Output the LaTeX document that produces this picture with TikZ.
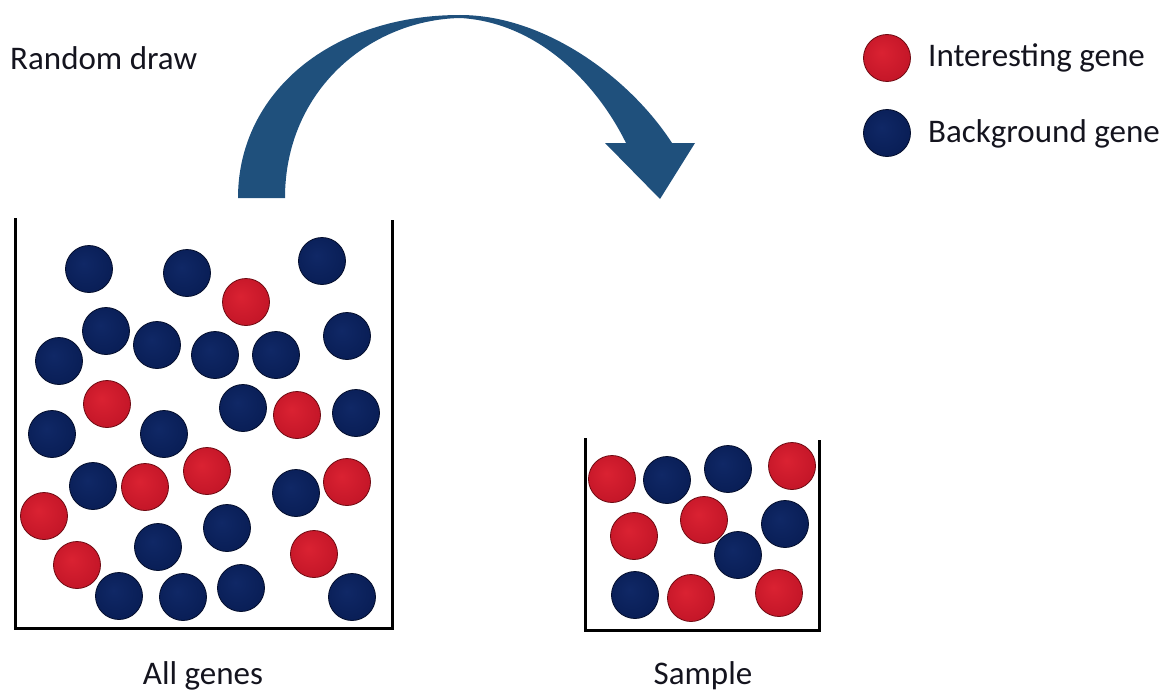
\documentclass[tikz,border=0pt]{standalone}
\usepackage{fontspec}
\setmainfont{Carlito}
\definecolor{arrowblue}{RGB}{31,80,124}
\definecolor{redA}{RGB}{218,34,50}
\definecolor{redB}{RGB}{196,22,40}
\definecolor{redC}{RGB}{110,10,18}
\definecolor{blueA}{RGB}{16,40,102}
\definecolor{blueB}{RGB}{9,30,86}
\definecolor{blueC}{RGB}{4,14,44}
\definecolor{txt}{RGB}{20,20,30}
\pgfdeclareradialshading{redball}{\pgfpoint{-6bp}{6bp}}{color(0bp)=(redA); color(28bp)=(redB); color(44bp)=(redB!80!black); color(50bp)=(redC)}
\pgfdeclareradialshading{blueball}{\pgfpoint{-6bp}{6bp}}{color(0bp)=(blueA); color(28bp)=(blueB); color(44bp)=(blueB!80!black); color(50bp)=(blueC)}
\tikzset{
  ball/.style={circle, minimum size=47pt, inner sep=0pt, line width=0.8pt},
  rball/.style={ball, shading=redball, draw=redC},
  bball/.style={ball, shading=blueball, draw=blueC},
  lbl/.style={font=\fontsize{33pt}{40pt}\selectfont, text=txt, inner sep=0pt},
  wall/.style={line width=3pt, draw=black}
}
\begin{document}
\begin{tikzpicture}[x=1pt,y=-1pt]
\useasboundingbox (0,0) rectangle (1173,693);
% arrow
\fill[arrowblue] (238,198) .. controls (238,92) and (332,15) .. (460,15)
  .. controls (545,15) and (630,78) .. (672,143)
  -- (695,143) -- (660,199) -- (605,143) -- (626,143)
  .. controls (595,80) and (535,22) .. (460,18)
  .. controls (370,20) and (285,90) .. (285,198) -- cycle;
% texts
\node[lbl, anchor=west] (rd) at (10,58) {Random draw};
\node[lbl, anchor=west] (il) at (928,58) {Interesting gene};
\node[lbl, anchor=west] (bl) at (928,134) {Background gene};
\node[lbl] (ag) at (203,676) {All genes};
\node[lbl] (sa) at (703,676) {Sample};
% legend
\node[rball] (lr) at (887,58) {};
\node[bball] (lb) at (887,133) {};
% containers
\draw[wall] (15,218) -- (15,628) -- (392,628) -- (392,220);
\draw[wall] (585,438) -- (585,630) -- (819,630) -- (819,440);
% all genes
\foreach \x/\y [count=\i] in {89/269,187/273,322/261,106/331,157/345,59/361,215/355,276/355,347/336,243/408,356/413,52/434,164/434,93/486,296/493,227/528,158/547,119/596,183/597,241/588,352/597}
  \node[bball] (ab\i) at (\x,\y) {};
\foreach \x/\y [count=\i] in {246/302,107/404,297/415,207/471,145/487,347/482,44/516,314/554,77/565}
  \node[rball] (ar\i) at (\x,\y) {};
% sample
\foreach \x/\y [count=\i] in {667/480,728/469,785/524,738/555,635/595}
  \node[bball] (sb\i) at (\x,\y) {};
\foreach \x/\y [count=\i] in {612/479,792/466,634/536,704/520,691/598,779/593}
  \node[rball] (sr\i) at (\x,\y) {};
\end{tikzpicture}
\end{document}
